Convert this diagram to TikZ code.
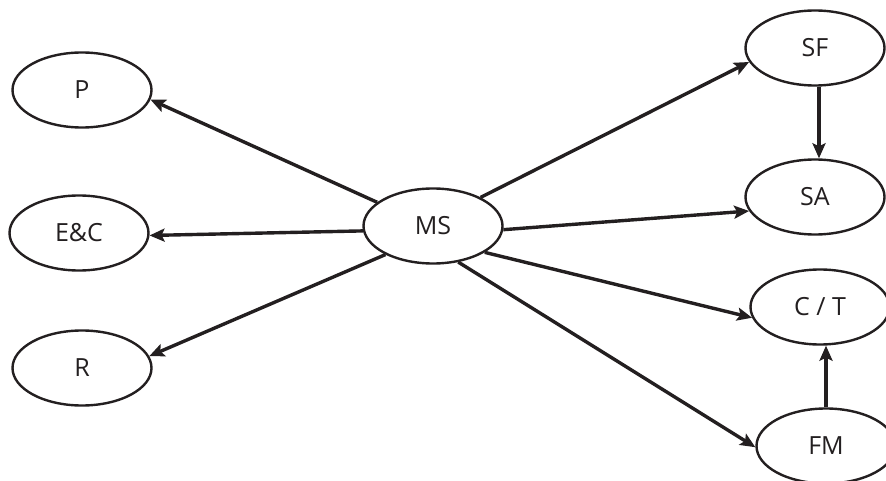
\documentclass[tikz,border=0pt]{standalone}
\usepackage{fontspec}
\setmainfont{Open Sans}
\usetikzlibrary{shapes.geometric,arrows.meta}
\definecolor{ink}{HTML}{231F20}
\begin{document}
\begin{tikzpicture}[x=1pt,y=-1pt,
  elli/.style={ellipse,draw=ink,line width=2.4pt,minimum width=139pt,minimum height=75pt,inner sep=0pt,font=\fontsize{25}{30}\selectfont,text=ink},
  conn/.style={draw=ink,line width=3.4pt,-{Stealth[length=15pt,width=13pt,inset=3pt]}}]
\useasboundingbox (0,0) rectangle (886,481);
\node[elli] (p) at (82,90) {P};
\node[elli] (ec) at (79,233) {E\&C};
\node[elli] (r) at (82,368) {R};
\node[elli] (ms) at (433,226) {MS};
\node[elli] (sf) at (815,48) {SF};
\node[elli] (sa) at (815,197) {SA};
\node[elli] (ct) at (820,307) {C / T};
\node[elli] (fm) at (826,446) {FM};
\draw[conn] (ms.157) -- (p.352);
\draw[conn] (ms.184) -- (ec.358);
\draw[conn] (ms.211) -- (r.10);
\draw[conn] (ms.31) -- (sf.192);
\draw[conn] (ms.357) -- (sa.192);
\draw[conn] (ms.333) -- (ct.189);
\draw[conn] (ms.305) -- (fm.181);
\draw[conn] ([xshift=4pt]sf.south) -- ([xshift=4pt]sa.north);
\draw[conn] (fm.north) -- (fm.north |- ct.south);
\end{tikzpicture}
\end{document}
